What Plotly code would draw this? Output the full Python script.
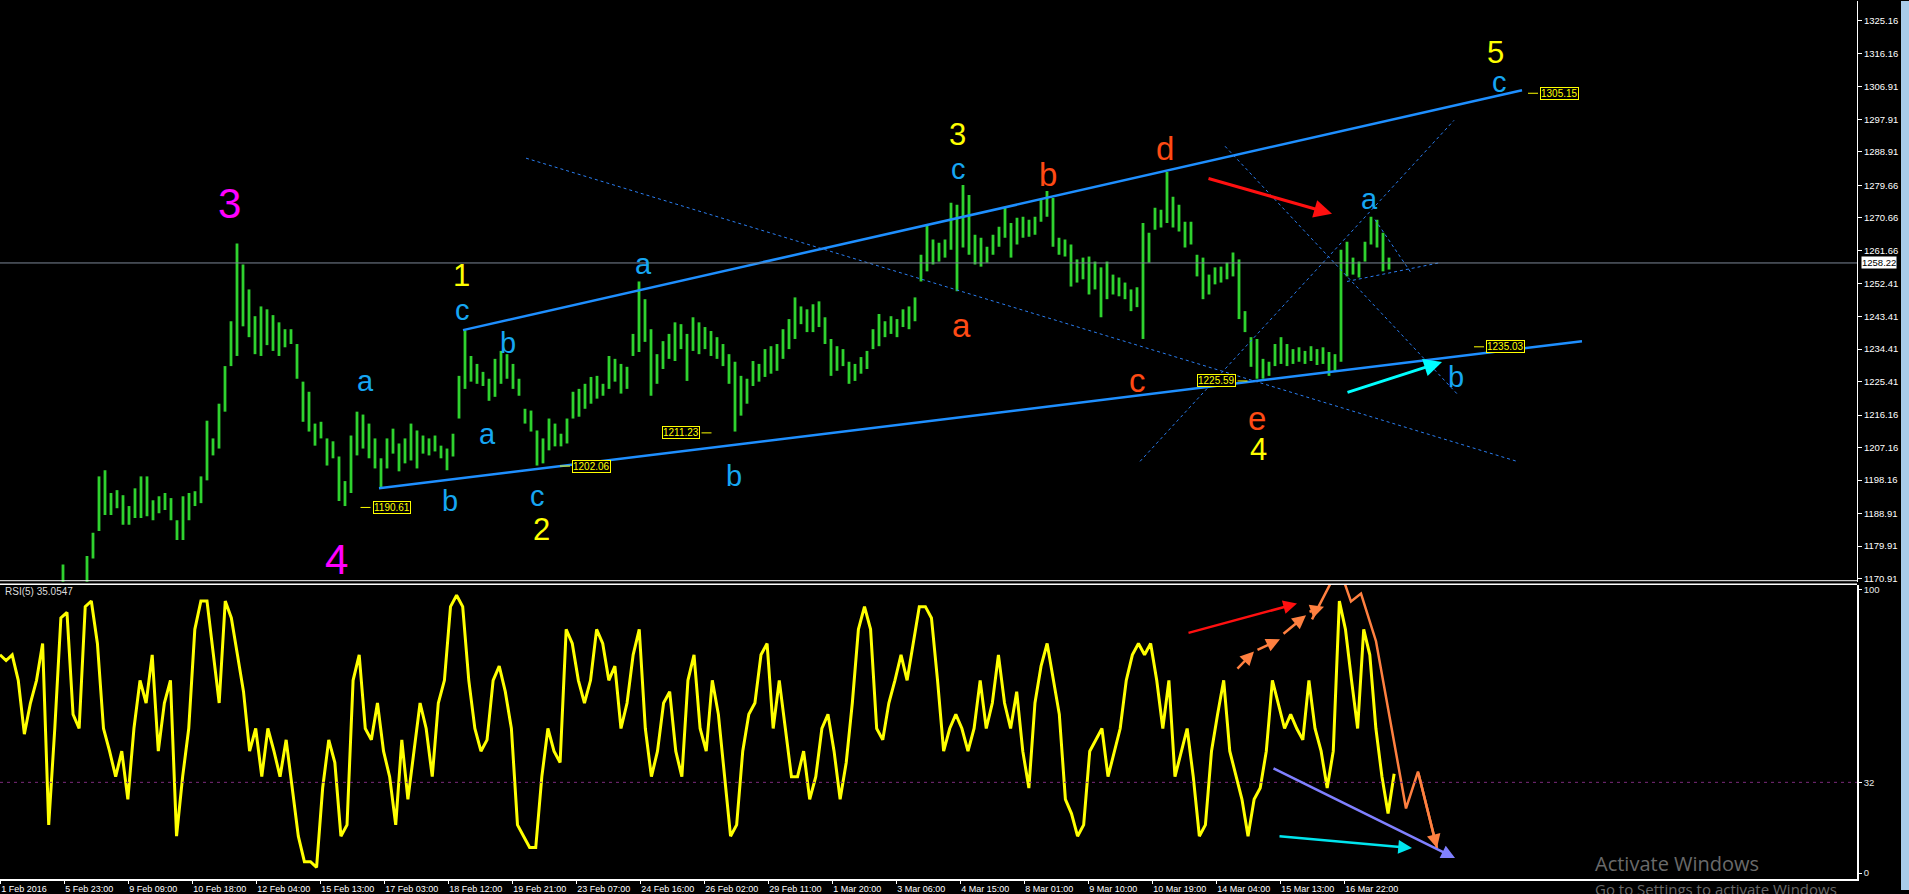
import plotly.graph_objects as go

# ---------------- data ----------------
x_labels = ["1 Feb 2016", "5 Feb 23:00", "9 Feb 09:00", "10 Feb 18:00", "12 Feb 04:00",
            "15 Feb 13:00", "17 Feb 03:00", "18 Feb 12:00", "19 Feb 21:00", "23 Feb 07:00",
            "24 Feb 16:00", "26 Feb 02:00", "29 Feb 11:00", "1 Mar 20:00", "3 Mar 06:00",
            "4 Mar 15:00", "8 Mar 01:00", "9 Mar 10:00", "10 Mar 19:00", "14 Mar 04:00",
            "15 Mar 13:00", "16 Mar 22:00"]
label_hours = [32 * i for i in range(len(x_labels))]

price_ticks = [1325.16, 1316.16, 1306.91, 1297.91, 1288.91, 1279.66, 1270.66, 1261.66,
               1252.41, 1243.41, 1234.41, 1225.41, 1216.16, 1207.16, 1198.16, 1188.91,
               1179.91, 1170.91]
current_price = 1258.22

highs = [1166.0, 1165.2, 1167.1, 1164.3, 1166.4, 1168.0, 1167.2, 1165.1, 1166.3, 1168.2,
         1174.8, 1168.6, 1167.4, 1169.1, 1177.2, 1183.6, 1199.2, 1200.9, 1194.6, 1195.4,
         1194.0, 1191.0, 1195.9, 1199.2, 1199.2, 1192.6, 1193.7, 1194.6, 1193.2, 1187.1,
         1193.7, 1194.6, 1195.1, 1199.2, 1214.6, 1209.7, 1219.3, 1229.7, 1242.1, 1263.6,
         1257.8, 1250.9, 1243.5, 1246.2, 1245.4, 1243.8, 1241.8, 1239.9, 1239.9, 1235.8,
         1225.4, 1222.6, 1213.8, 1214.3, 1209.7, 1208.9, 1204.7, 1197.9, 1210.5, 1217.1,
         1216.3, 1213.8, 1209.7, 1204.2, 1209.7, 1212.4, 1208.3, 1209.7, 1213.8, 1211.9,
         1210.5, 1209.7, 1210.5, 1207.7, 1206.9, 1211.0, 1227.0, 1239.6, 1232.5, 1230.3,
         1228.1, 1226.2, 1231.7, 1233.9, 1233.0, 1230.3, 1226.2, 1217.9, 1217.4, 1211.9,
         1209.7, 1215.2, 1213.8, 1211.0, 1215.2, 1222.6, 1223.4, 1224.8, 1226.7, 1227.0,
         1224.8, 1232.5, 1231.7, 1230.3, 1229.5, 1238.6, 1253.1, 1248.2, 1239.9, 1233.0,
         1236.6, 1238.6, 1241.8, 1241.3, 1238.6, 1243.2, 1241.8, 1240.5, 1239.4, 1237.7,
         1235.8, 1233.0, 1230.9, 1227.0, 1226.2, 1231.1, 1230.3, 1234.4, 1235.2, 1235.8,
         1239.9, 1242.7, 1248.7, 1246.2, 1245.4, 1246.8, 1247.6, 1243.2, 1237.2, 1235.2,
         1234.4, 1230.9, 1230.3, 1232.2, 1233.9, 1239.9, 1244.1, 1242.1, 1243.5, 1242.7,
         1245.4, 1246.2, 1248.7, 1260.5, 1268.8, 1264.7, 1263.8, 1264.7, 1274.9, 1274.3,
         1279.8, 1277.0, 1266.0, 1265.2, 1262.7, 1266.0, 1268.2, 1273.5, 1269.3, 1270.7,
         1271.0, 1270.2, 1271.0, 1275.7, 1278.1, 1276.2, 1265.2, 1264.7, 1263.3, 1259.2,
         1259.7, 1260.0, 1258.6, 1257.0, 1258.6, 1255.0, 1254.2, 1252.8, 1250.9, 1251.5,
         1269.3, 1266.6, 1273.5, 1272.9, 1283.4, 1276.5, 1274.3, 1269.6, 1269.6, 1260.5,
         1259.7, 1255.0, 1257.0, 1257.2, 1258.3, 1261.1, 1259.2, 1244.9, 1237.7, 1237.2,
         1231.7, 1230.9, 1235.8, 1237.7, 1235.8, 1234.4, 1234.9, 1233.9, 1235.2, 1234.4,
         1234.9, 1233.6, 1233.0, 1261.9, 1264.1, 1259.7, 1258.6, 1264.1, 1271.0, 1270.2,
         1266.6, 1259.7]
lows = [1160.5, 1159.8, 1161.0, 1158.9, 1160.2, 1162.1, 1161.5, 1159.7, 1160.4, 1162.0,
        1167.0, 1163.0, 1162.2, 1163.5, 1169.0, 1176.5, 1184.1, 1188.5, 1188.5, 1190.4,
        1185.8, 1185.8, 1187.7, 1187.7, 1188.2, 1187.1, 1189.0, 1189.9, 1187.1, 1181.6,
        1181.6, 1187.1, 1191.0, 1191.8, 1198.1, 1205.0, 1206.9, 1217.1, 1229.7, 1232.5,
        1240.7, 1237.7, 1233.0, 1232.5, 1235.5, 1233.9, 1232.5, 1234.9, 1235.8, 1226.2,
        1214.3, 1211.6, 1207.7, 1209.7, 1202.2, 1204.2, 1192.4, 1191.0, 1194.6, 1205.0,
        1206.9, 1204.2, 1201.4, 1195.9, 1201.4, 1205.5, 1200.6, 1202.8, 1203.6, 1201.4,
        1205.5, 1205.0, 1206.1, 1204.2, 1200.9, 1204.7, 1215.2, 1223.4, 1225.4, 1224.8,
        1224.2, 1220.1, 1221.2, 1224.8, 1226.2, 1223.4, 1221.5, 1213.8, 1211.6, 1202.2,
        1202.8, 1206.4, 1207.5, 1207.5, 1208.3, 1215.2, 1215.7, 1217.9, 1219.3, 1220.7,
        1221.5, 1223.4, 1225.4, 1222.1, 1223.4, 1232.5, 1233.6, 1236.4, 1221.5, 1224.8,
        1228.9, 1231.7, 1231.1, 1234.4, 1225.6, 1233.9, 1233.0, 1234.4, 1232.5, 1231.7,
        1229.7, 1224.8, 1211.6, 1216.0, 1219.3, 1224.2, 1225.4, 1226.7, 1227.6, 1228.4,
        1231.7, 1234.4, 1237.2, 1241.3, 1239.1, 1239.1, 1240.5, 1235.8, 1227.0, 1228.4,
        1229.7, 1224.8, 1225.6, 1227.6, 1228.9, 1234.4, 1235.2, 1237.7, 1238.6, 1237.7,
        1240.5, 1239.9, 1242.1, 1253.1, 1255.9, 1257.8, 1258.6, 1259.7, 1261.9, 1250.4,
        1262.5, 1260.5, 1257.8, 1257.2, 1258.3, 1260.5, 1262.7, 1265.2, 1259.7, 1263.3,
        1265.2, 1265.5, 1266.0, 1269.6, 1271.0, 1262.7, 1260.5, 1260.0, 1251.7, 1252.8,
        1253.7, 1249.5, 1250.9, 1243.2, 1248.2, 1249.5, 1249.0, 1248.2, 1244.9, 1246.0,
        1237.2, 1258.3, 1267.4, 1268.0, 1269.3, 1268.0, 1266.9, 1262.5, 1263.3, 1254.5,
        1248.2, 1249.5, 1252.3, 1252.8, 1253.7, 1254.5, 1242.7, 1239.1, 1229.5, 1226.2,
        1226.2, 1227.0, 1229.7, 1230.3, 1229.7, 1230.3, 1230.9, 1230.3, 1231.1, 1230.0,
        1230.3, 1227.0, 1228.4, 1230.9, 1254.5, 1255.0, 1254.2, 1258.6, 1263.3, 1262.5,
        1255.9, 1256.4]

# RSI(5), read every ~3.04 hourly bars
rsi_step_hours = 3.044
rsi = [77, 75, 77, 68, 49, 60, 68, 81, 17, 51, 90, 92, 56, 51, 94, 96, 81, 51, 43, 34,
       43, 26, 51, 68, 60, 77, 43, 60, 68, 13, 34, 51, 86, 96, 96, 77, 60, 96, 90, 77,
       64, 43, 51, 34, 51, 43, 34, 47, 30, 13, 4, 4, 2, 30, 47, 39, 13, 17, 68, 77,
       51, 47, 60, 43, 34, 17, 47, 26, 43, 60, 51, 34, 60, 68, 94, 98, 94, 68, 51, 43,
       47, 68, 73, 64, 51, 17, 13, 9, 9, 34, 51, 43, 39, 86, 81, 68, 60, 68, 86, 81,
       68, 73, 51, 60, 77, 86, 51, 34, 43, 60, 64, 43, 34, 68, 77, 51, 43, 68, 56, 34,
       13, 17, 43, 56, 60, 77, 81, 51, 68, 51, 34, 34, 43, 26, 34, 51, 56, 43, 26, 39,
       60, 86, 94, 86, 51, 47, 60, 68, 77, 68, 81, 94, 94, 90, 68, 43, 51, 56, 51, 43,
       51, 68, 51, 60, 77, 60, 51, 64, 43, 30, 60, 73, 81, 68, 56, 26, 21, 13, 17, 43,
       47, 51, 34, 43, 51, 68, 77, 81, 77, 81, 68, 51, 68, 34, 43, 51, 34, 13, 17, 43,
       56, 68, 43, 34, 26, 13, 26, 30, 43, 68, 60, 51, 56, 51, 47, 68, 51, 43, 30, 43,
       96, 86, 68, 51, 86, 77, 51, 34, 21, 35.05]
rsi_level = 32

# trend lines (time in hourly-bar units, price)
upper_channel_t = [231.5, 761]
upper_channel_p = [1239.65, 1306.0]
lower_channel_t = [189.5, 791]
lower_channel_p = [1195.9, 1236.6]
dotted_lines = [
    ([263, 758.5], [1287.2, 1203.35]),
    ([612.5, 728.5], [1290.5, 1222.05]),
    ([570, 727], [1203.35, 1297.66]),
    ([687.5, 706], [1270.2, 1255.1]),
    ([673.5, 720], [1253.1, 1258.3]),
]

# price label objects: (time, price, tick side)
price_labels = [(195.75, 1190.61, "left"), (295.5, 1202.06, "left"), (340.25, 1211.23, "right"),
                (608.25, 1225.59, "right"), (752.5, 1235.03, "left"), (779.5, 1305.15, "left")]

# wave labels: (text, time, price, colour, size)
YEL, BLU, ORG, MAG = "#ffff00", "#16a6f2", "#ff4a14", "#ff00ff"
wave_labels = [
    ("3", 114.5, 1274.8, MAG, 42), ("4", 168, 1176.1, MAG, 42),
    ("1", 230.5, 1254.8, YEL, 31), ("2", 270.5, 1184.4, YEL, 31), ("3", 478.5, 1293.8, YEL, 31),
    ("4", 629, 1206.7, YEL, 31), ("5", 747.5, 1316.4, YEL, 31),
    ("a", 182.5, 1225.6, BLU, 29), ("b", 225, 1192.35, BLU, 29), ("c", 231, 1245.15, BLU, 29),
    ("a", 243.5, 1211.0, BLU, 29), ("b", 254, 1236.07, BLU, 29), ("c", 268.5, 1193.7, BLU, 29),
    ("a", 321.5, 1258.07, BLU, 29), ("b", 367, 1199.2, BLU, 29), ("c", 479, 1284.2, BLU, 29),
    ("a", 684.5, 1275.9, BLU, 29), ("b", 728, 1226.7, BLU, 29), ("c", 749.5, 1308.4, BLU, 29),
    ("a", 480.5, 1241.0, ORG, 33), ("b", 524, 1282.8, ORG, 33), ("c", 568.5, 1225.6, ORG, 33),
    ("d", 582.5, 1289.97, ORG, 33), ("e", 628.5, 1215.2, ORG, 33),
]

# arrows: (t_from, v_from, t_to, v_to, colour)
main_arrows = [(603.5, 1281.7, 666, 1271.8, "#ff1010"), (673, 1222.3, 721, 1230.85, "#00ffff")]
rsi_arrows = [(593.5, 84.6, 648.5, 95.1, "#ff1010"), (636, 37.2, 727.5, 5.3, "#8080ff"),
              (639, 13.0, 706, 8.8, "#00e5ee"), (618, 71.6, 627, 78.2, "#ff8040"),
              (628, 78.5, 640, 82.5, "#ff8040"), (641, 84, 653, 91, "#ff8040"),
              (654, 92, 662, 94, "#ff8040")]
rsi_orange_t = [656, 669.5, 675.5, 680.5, 688, 703, 709, 718.5]
rsi_orange_v = [89.5, 108, 95.8, 98.6, 81.8, 22.8, 35.8, 8.8]

# ---------------- figure ----------------
GREEN = "#2fd22f"
bar_t = [3 * k + 1.5 for k in range(len(highs))]
rsi_t = [i * rsi_step_hours for i in range(len(rsi))]
XR = [0, 928.5]
FONT = "Liberation Sans"

fig = go.Figure()
fig.add_trace(go.Bar(x=bar_t, y=[h - l for h, l in zip(highs, lows)], base=lows, width=1.4,
                     marker=dict(color=GREEN, line_width=0), xaxis="x", yaxis="y",
                     hoverinfo="skip", cliponaxis=True))
fig.add_trace(go.Scatter(x=upper_channel_t, y=upper_channel_p, mode="lines",
                         line=dict(color="#1e8fff", width=2.5), xaxis="x", yaxis="y"))
fig.add_trace(go.Scatter(x=lower_channel_t, y=lower_channel_p, mode="lines",
                         line=dict(color="#1e8fff", width=2.5), xaxis="x", yaxis="y"))
for t, p in dotted_lines:
    fig.add_trace(go.Scatter(x=t, y=p, mode="lines", xaxis="x", yaxis="y",
                             line=dict(color="#2a7df0", width=1, dash="3px,3px")))
fig.add_trace(go.Scatter(x=rsi_t, y=rsi, mode="lines", line=dict(color="#ffff00", width=3),
                         xaxis="x2", yaxis="y2"))
fig.add_trace(go.Scatter(x=rsi_orange_t, y=rsi_orange_v, mode="lines",
                         line=dict(color="#ff8040", width=2.5), xaxis="x2", yaxis="y2",
                         cliponaxis=False))

ann = []
for txt, t, p, c, s in wave_labels:
    ann.append(dict(x=t, y=p, xref="x", yref="y", text=txt, showarrow=False,
                    xanchor="center", yanchor="middle",
                    font=dict(color=c, size=s, family=FONT)))
for t, p, side in price_labels:
    ann.append(dict(x=t, y=p, xref="x", yref="y", text=f"{p:.2f}", showarrow=False,
                    xanchor="center", yanchor="middle",
                    font=dict(color="#ffff00", size=10, family=FONT), bgcolor="#000000",
                    bordercolor="#ffff00", borderwidth=1, borderpad=0))
for t0, v0, t1, v1, c in main_arrows:
    ann.append(dict(x=t1, y=v1, ax=t0, ay=v0, xref="x", yref="y", axref="x", ayref="y",
                    showarrow=True, arrowhead=2, arrowsize=1.2, arrowwidth=3, arrowcolor=c,
                    text=""))
for t0, v0, t1, v1, c in rsi_arrows:
    ann.append(dict(x=t1, y=v1, ax=t0, ay=v0, xref="x2", yref="y2", axref="x2", ayref="y2",
                    showarrow=True, arrowhead=2, arrowsize=1.1, arrowwidth=2.5, arrowcolor=c,
                    text=""))
ann.append(dict(x=rsi_orange_t[-1], y=rsi_orange_v[-1], ax=rsi_orange_t[-2], ay=rsi_orange_v[-2],
                xref="x2", yref="y2", axref="x2", ayref="y2", showarrow=True, arrowhead=2,
                arrowsize=1.1, arrowwidth=2.5, arrowcolor="#ff8040", text=""))
ann.append(dict(x=1, y=current_price, xref="paper", yref="y", xanchor="left", yanchor="middle",
                xshift=4, text=f"{current_price:.2f}", showarrow=False, bgcolor="#ffffff",
                font=dict(color="#000000", size=9.5, family=FONT), borderpad=0))
ann.append(dict(x=0.0016, y=1 - 594 / 883, xref="paper", yref="paper", xanchor="left",
                yanchor="middle", text="RSI(5) 35.0547", showarrow=False,
                font=dict(color="#dcdcdc", size=10, family=FONT)))
ann.append(dict(x=0.8578, y=1 - 867 / 883, xref="paper", yref="paper", xanchor="left",
                yanchor="middle", text="Activate Windows", showarrow=False,
                font=dict(color="#6a6a6a", size=20, family="Open Sans")))
ann.append(dict(x=0.8578, y=1 - 893 / 883, xref="paper", yref="paper", xanchor="left",
                yanchor="middle", text="Go to Settings to activate Windows", showarrow=False,
                font=dict(color="#6a6a6a", size=15, family="Open Sans")))

shapes = [
    dict(type="line", xref="paper", yref="y", x0=0, x1=1, y0=current_price, y1=current_price,
         line=dict(color="#7c8796", width=1)),
    dict(type="line", xref="paper", yref="y2", x0=0, x1=1, y0=rsi_level, y1=rsi_level,
         line=dict(color="#7a2a7a", width=1, dash="3px,4px")),
    dict(type="line", xref="paper", yref="paper", x0=0, x1=1, y0=1 - 583 / 883, y1=1 - 583 / 883,
         line=dict(color="#ffffff", width=1)),
    dict(type="line", xref="paper", yref="paper", x0=0, x1=1, y0=1 - 586.5 / 883,
         y1=1 - 586.5 / 883, line=dict(color="#ffffff", width=1.5)),
    dict(type="rect", xref="paper", yref="paper", x0=1901 / 1857, x1=1909 / 1857, y0=-11 / 883,
         y1=1, line=dict(width=0), fillcolor="#a9cbea"),
]
for t, p, side in price_labels:
    sgn = -1 if side == "left" else 1
    shapes.append(dict(type="line", xref="x", yref="y", x0=t + sgn * 10.5, x1=t + sgn * 15.5,
                       y0=p, y1=p, line=dict(color="#ffff00", width=1)))

axis_common = dict(showgrid=False, zeroline=False, color="#ffffff")
fig.update_layout(
    width=1909, height=894, margin=dict(l=0, r=52, t=0, b=11),
    paper_bgcolor="#000000", plot_bgcolor="#000000", showlegend=False,
    xaxis=dict(domain=[0, 1], range=XR, showticklabels=False, anchor="y", **axis_common),
    yaxis=dict(domain=[1 - 584 / 883, 1], range=[1170.08, 1330.66], side="right", anchor="x",
               tickvals=price_ticks, ticktext=[f"{v:.2f}" for v in price_ticks],
               ticks="outside", ticklen=4, tickcolor="#ffffff", showline=True,
               linecolor="#ffffff", linewidth=1,
               tickfont=dict(color="#ffffff", size=9.5, family=FONT), **axis_common),
    xaxis2=dict(domain=[0, 1], range=XR, anchor="y2", tickvals=label_hours, ticktext=x_labels,
                ticks="outside", ticklen=3, tickcolor="#ffffff", ticklabelposition="outside right",
                showline=True, linecolor="#ffffff", linewidth=1.5,
                tickfont=dict(color="#ffffff", size=9, family=FONT), **axis_common),
    yaxis2=dict(domain=[0, 296 / 883], range=[-2.1, 101.75], side="right", anchor="x2",
                tickvals=[0, 32, 100], ticktext=["0", "32", "100"], ticks="outside", ticklen=3,
                tickcolor="#ffffff", showline=True, linecolor="#ffffff", linewidth=1.5,
                tickfont=dict(color="#e8e8e8", size=9.5, family=FONT), **axis_common),
    annotations=ann, shapes=shapes,
)

fig.write_html("out.html", config={"displayModeBar": False},
               post_script="document.body.style.margin='0';document.body.style.overflow='hidden';")
